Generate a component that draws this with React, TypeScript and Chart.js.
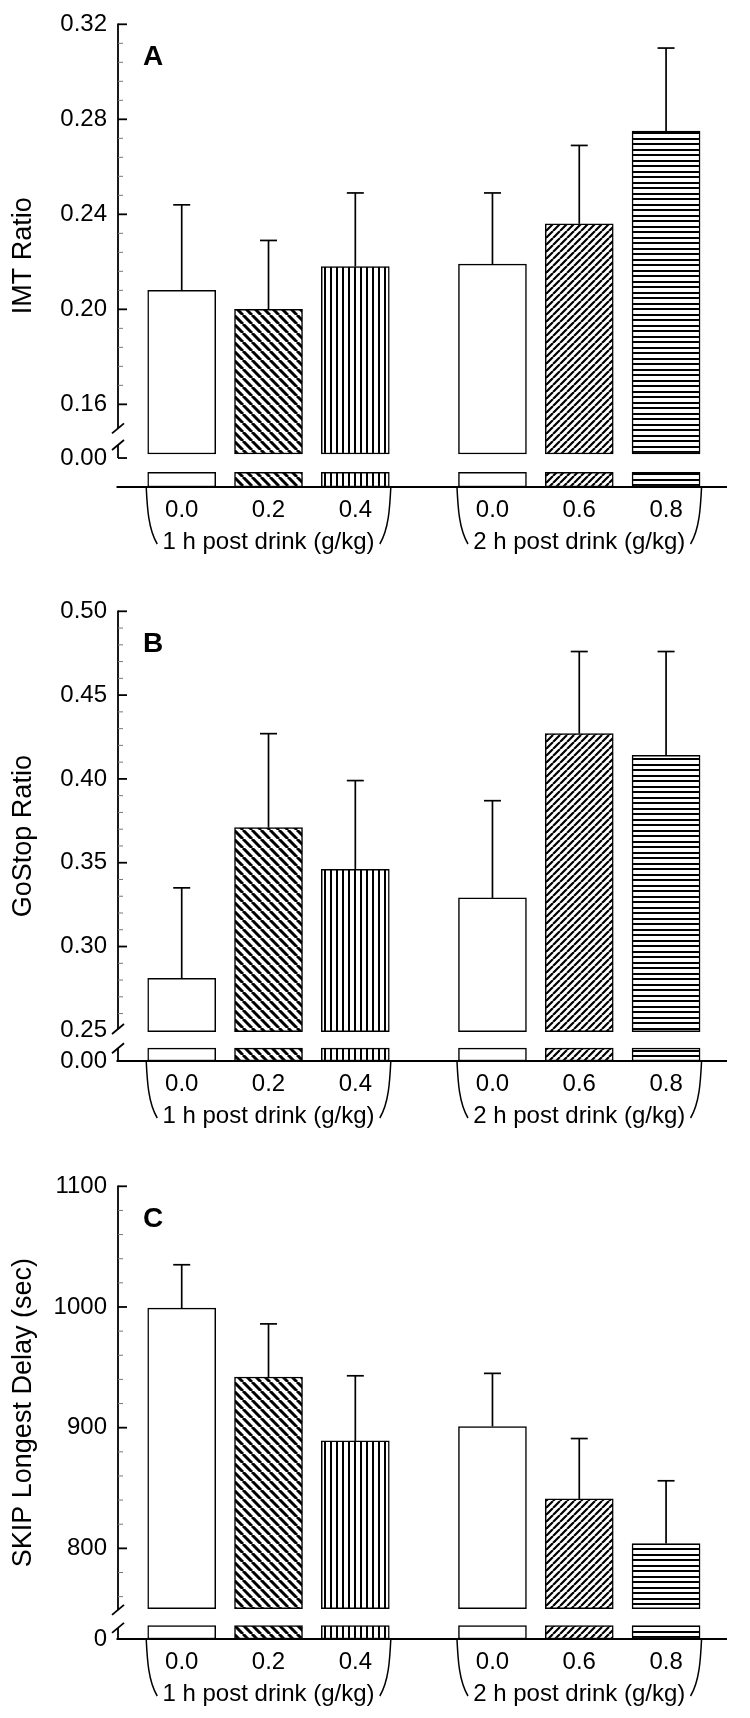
import React, { useEffect, useRef } from "react";
import { Chart, registerables } from "chart.js";

Chart.register(...registerables);

const FONT = "'Liberation Sans', Arial, Helvetica, sans-serif";
Chart.defaults.font.family = FONT;

// ---------------- data ----------------
const doseLabels = ["0.0", "0.2", "0.4", "0.0", "0.6", "0.8"];
const groupLabels = ["1 h post drink (g/kg)", "2 h post drink (g/kg)"];
const groupIndex = [0, 0, 0, 1, 1, 1];
const doseIndexInGroup = [0, 1, 2, 0, 1, 2];

const imtMean = [0.208, 0.2, 0.218, 0.219, 0.236, 0.275];
const imtSem = [0.036, 0.029, 0.031, 0.03, 0.033, 0.035];

const goStopMean = [0.281, 0.371, 0.346, 0.329, 0.427, 0.414];
const goStopSem = [0.054, 0.056, 0.053, 0.058, 0.049, 0.062];

const skipMean = [999, 942, 889, 901, 841, 804];
const skipSem = [36, 44, 54, 44, 50, 52];

const imtTicks = [0.16, 0.2, 0.24, 0.28, 0.32];
const goStopTicks = [0.25, 0.3, 0.35, 0.4, 0.45, 0.5];
const skipTicks = [800, 900, 1000, 1100];
const zeroLabels = ["0.00", "0.00", "0"];
const panelLetters = ["A", "B", "C"];
const yTitles = ["IMT Ratio", "GoStop Ratio", "SKIP Longest Delay (sec)"];
const patternKinds = ["open", "back", "vert", "open", "fwd", "horiz"];

// ---------------- layout ----------------
const GROUP_STRIDE = 3.58;
const X_MIN = -0.734;
const X_MAX = 6.282;

type PanelCfg = {
  mean: number[];
  sem: number[];
  ticks: number[];
  zero: string;
  letter: string;
  title: string;
  decimals: number;
  top: number;
  height: number;
  padTop: number;
  padBottom: number;
  yMin: number;
  yMax: number;
  minorStep: number;
  majorEvery: number;
  minorFloor: number;
  upperBase: number;
  stubTop: number;
  breakHi: number;
  breakLo: number;
  zeroAt: number;
  zeroTick: boolean;
};

const panels: PanelCfg[] = [
  {
    mean: imtMean, sem: imtSem, ticks: imtTicks, zero: zeroLabels[0], letter: panelLetters[0],
    title: yTitles[0], decimals: 2, top: 0, height: 560, padTop: 24.3, padBottom: 13,
    yMin: 0.1252, yMax: 0.32, minorStep: 0.008, majorEvery: 5, minorFloor: 0.155,
    upperBase: 0.1391, stubTop: 0.1314, breakHi: 0.1499, breakLo: 0.1429, zeroAt: 0.1374, zeroTick: true,
  },
  {
    mean: goStopMean, sem: goStopSem, ticks: goStopTicks, zero: zeroLabels[1], letter: panelLetters[1],
    title: yTitles[1], decimals: 2, top: 560, height: 570, padTop: 51.3, padBottom: 9,
    yMin: 0.2317, yMax: 0.5, minorStep: 0.01, majorEvery: 5, minorFloor: 0.25,
    upperBase: 0.2492, stubTop: 0.2394, breakHi: 0.2508, breakLo: 0.2393, zeroAt: 0.2317, zeroTick: false,
  },
  {
    mean: skipMean, sem: skipSem, ticks: skipTicks, zero: zeroLabels[2], letter: panelLetters[2],
    title: yTitles[2], decimals: 0, top: 1130, height: 588, padTop: 56.3, padBottom: 19,
    yMin: 724.9, yMax: 1100, minorStep: 20, majorEvery: 5, minorFloor: 755,
    upperBase: 750, stubTop: 736, breakHi: 749, breakLo: 734.1, zeroAt: 724.9, zeroTick: false,
  },
];

function makePattern(kind: string): string | CanvasPattern {
  if (kind === "open") return "#ffffff";
  const c = document.createElement("canvas");
  let w = 9;
  let h = 9;
  if (kind === "fwd") { w = 7; h = 7; }
  if (kind === "vert") { w = 6; h = 6; }
  if (kind === "horiz") { w = 11; h = 11; }
  c.width = w;
  c.height = h;
  const g = c.getContext("2d") as CanvasRenderingContext2D;
  g.fillStyle = "#ffffff";
  g.fillRect(0, 0, w, h);
  g.fillStyle = "#000000";
  g.strokeStyle = "#000000";
  if (kind === "back") {
    g.lineWidth = 3;
    g.beginPath();
    for (let k = -1; k <= 1; k++) { g.moveTo(k * w, 0); g.lineTo(k * w + w, h); }
    g.stroke();
  } else if (kind === "fwd") {
    g.lineWidth = 2.2;
    g.beginPath();
    for (let k = -1; k <= 1; k++) { g.moveTo(k * w, h); g.lineTo(k * w + w, 0); }
    g.stroke();
  } else if (kind === "vert") {
    g.fillRect(0, 0, 2, h);
  } else if (kind === "horiz") {
    g.fillRect(0, 0, w, 2);
    g.fillRect(0, 6, w, 2);
  }
  return g.createPattern(c, "repeat") as CanvasPattern;
}

function line(ctx: CanvasRenderingContext2D, x1: number, y1: number, x2: number, y2: number) {
  ctx.beginPath();
  ctx.moveTo(x1, y1);
  ctx.lineTo(x2, y2);
  ctx.stroke();
}

function buildChart(canvas: HTMLCanvasElement, cfg: PanelCfg) {
  const positions = doseIndexInGroup.map((d, i) => groupIndex[i] * GROUP_STRIDE + d);
  const bgs = patternKinds.map(makePattern);

  const deco = {
    id: "deco",
    afterDatasetsDraw(chart: any) {
      const ctx: CanvasRenderingContext2D = chart.ctx;
      const ys = chart.scales.y;
      const meta = chart.getDatasetMeta(0);
      ctx.save();
      ctx.strokeStyle = "#000";
      ctx.lineWidth = 1.7;
      meta.data.forEach((el: any, i: number) => {
        const yTop = ys.getPixelForValue(cfg.mean[i]);
        const yCap = ys.getPixelForValue(cfg.mean[i] + cfg.sem[i]);
        line(ctx, el.x, yTop, el.x, yCap);
        line(ctx, el.x - 8.5, yCap, el.x + 8.5, yCap);
      });
      ctx.restore();
    },
    afterDraw(chart: any) {
      const ctx: CanvasRenderingContext2D = chart.ctx;
      const ys = chart.scales.y;
      const ca = chart.chartArea;
      const ax = ca.left;
      const py = (v: number) => ys.getPixelForValue(v);
      ctx.save();
      ctx.strokeStyle = "#000";
      ctx.fillStyle = "#000";
      ctx.lineWidth = 1.8;
      // x axis
      line(ctx, ax - 1.5, ca.bottom, ca.right, ca.bottom);
      // y axis upper segment
      line(ctx, ax, py(cfg.yMax) - 0.9, ax, py(cfg.breakHi));
      // break marks
      [cfg.breakHi, cfg.breakLo].forEach((b) => {
        const yb = py(b);
        line(ctx, ax - 6, yb + 5, ax + 6, yb - 5);
      });
      // lower stub
      line(ctx, ax, py(cfg.breakLo), ax, py(cfg.zeroAt));
      if (cfg.zeroTick) line(ctx, ax, py(cfg.zeroAt), ax + 9, py(cfg.zeroAt));
      // major ticks
      cfg.ticks.forEach((t) => {
        if (t > cfg.breakHi) line(ctx, ax, py(t), ax + 9, py(t));
      });
      // minor ticks
      ctx.lineWidth = 1;
      ctx.strokeStyle = "#777";
      const n0 = Math.ceil(cfg.minorFloor / cfg.minorStep - 1e-9);
      const n1 = Math.floor(cfg.yMax / cfg.minorStep + 1e-9);
      for (let n = n0; n <= n1; n++) {
        if (n % cfg.majorEvery === 0) continue;
        const y = py(n * cfg.minorStep);
        line(ctx, ax, y, ax + 5, y);
      }
      // panel letter
      ctx.fillStyle = "#000";
      ctx.font = `bold 28px ${FONT}`;
      ctx.textAlign = "left";
      ctx.textBaseline = "alphabetic";
      ctx.fillText(cfg.letter, ax + 25, ca.top + 41);
      // group brackets & labels
      const meta = chart.getDatasetMeta(0);
      ctx.strokeStyle = "#000";
      ctx.lineWidth = 1.5;
      ctx.font = `24px ${FONT}`;
      ctx.textAlign = "center";
      groupLabels.forEach((label, g) => {
        const idx = groupIndex.map((gi, i) => (gi === g ? i : -1)).filter((i) => i >= 0);
        const first = meta.data[idx[0]];
        const last = meta.data[idx[idx.length - 1]];
        const l = first.x - first.width / 2 - 1.5;
        const r = last.x + last.width / 2 + 1.5;
        const y0 = ca.bottom;
        ctx.beginPath();
        ctx.moveTo(l, y0);
        ctx.bezierCurveTo(l + 1, y0 + 20, l + 2, y0 + 42, l + 11, y0 + 57);
        ctx.stroke();
        ctx.beginPath();
        ctx.moveTo(r, y0);
        ctx.bezierCurveTo(r - 1, y0 + 20, r - 2, y0 + 42, r - 11, y0 + 57);
        ctx.stroke();
        ctx.fillText(label, (l + r) / 2, y0 + 62);
      });
      ctx.restore();
    },
  };

  return new Chart(canvas, {
    type: "bar",
    data: {
      datasets: [
        {
          data: positions.map((x, i) => ({ x, y: [cfg.upperBase, cfg.mean[i]] })) as any,
          backgroundColor: bgs as any,
          borderColor: "#000",
          borderWidth: 1.5,
          borderSkipped: false,
          grouped: false,
          barThickness: 68,
        },
        {
          data: positions.map((x) => ({ x, y: [cfg.yMin, cfg.stubTop] })) as any,
          backgroundColor: bgs as any,
          borderColor: "#000",
          borderWidth: 1.5,
          borderSkipped: false,
          grouped: false,
          barThickness: 68,
        },
      ],
    },
    options: {
      responsive: false,
      animation: false,
      devicePixelRatio: 1,
      events: [],
      layout: { padding: { left: 0, right: 23, top: cfg.padTop, bottom: cfg.padBottom } },
      plugins: { legend: { display: false }, tooltip: { enabled: false }, title: { display: false } },
      scales: {
        x: {
          type: "linear",
          min: X_MIN,
          max: X_MAX,
          offset: false,
          grid: { display: false, drawTicks: false, offset: false },
          border: { display: false },
          afterBuildTicks: (s: any) => {
            s.ticks = positions.map((v) => ({ value: v }));
          },
          afterFit: (s: any) => {
            s.height = 60;
            s.paddingLeft = 0;
            s.paddingRight = 0;
          },
          ticks: {
            autoSkip: false,
            maxRotation: 0,
            minRotation: 0,
            padding: 9,
            color: "#000",
            font: { size: 24, family: FONT },
            callback: (_v: any, i: number) => doseLabels[i],
          },
        },
        y: {
          type: "linear",
          min: cfg.yMin,
          max: cfg.yMax,
          grid: { display: false, drawTicks: false },
          border: { display: false },
          afterBuildTicks: (s: any) => {
            s.ticks = [cfg.zeroAt, ...cfg.ticks].map((v) => ({ value: v }));
          },
          afterFit: (s: any) => {
            s.width = 118;
            s.paddingTop = 0;
            s.paddingBottom = 0;
          },
          ticks: {
            autoSkip: false,
            padding: 11,
            color: "#000",
            font: { size: 24, family: FONT },
            callback: (v: any) =>
              Math.abs(Number(v) - cfg.zeroAt) < 1e-9 ? cfg.zero : Number(v).toFixed(cfg.decimals),
          },
          title: {
            display: true,
            text: cfg.title,
            color: "#000",
            font: { size: 27, family: FONT },
            padding: { top: 7, bottom: 0 },
          },
        },
      },
    } as any,
    plugins: [deco],
  });
}

function Panel({ cfg }: { cfg: PanelCfg }) {
  const ref = useRef<HTMLCanvasElement>(null);
  useEffect(() => {
    const chart = buildChart(ref.current as HTMLCanvasElement, cfg);
    return () => chart.destroy();
  }, [cfg]);
  return (
    <canvas
      ref={ref}
      width={750}
      height={cfg.height}
      style={{ position: "absolute", left: 0, top: cfg.top, width: 750, height: cfg.height, display: "block" }}
    />
  );
}

export default function App() {
  return (
    <div style={{ position: "absolute", left: 0, top: 0, width: 750, height: 1718, background: "#ffffff" }}>
      {panels.map((p, i) => (
        <Panel key={i} cfg={p} />
      ))}
    </div>
  );
}
